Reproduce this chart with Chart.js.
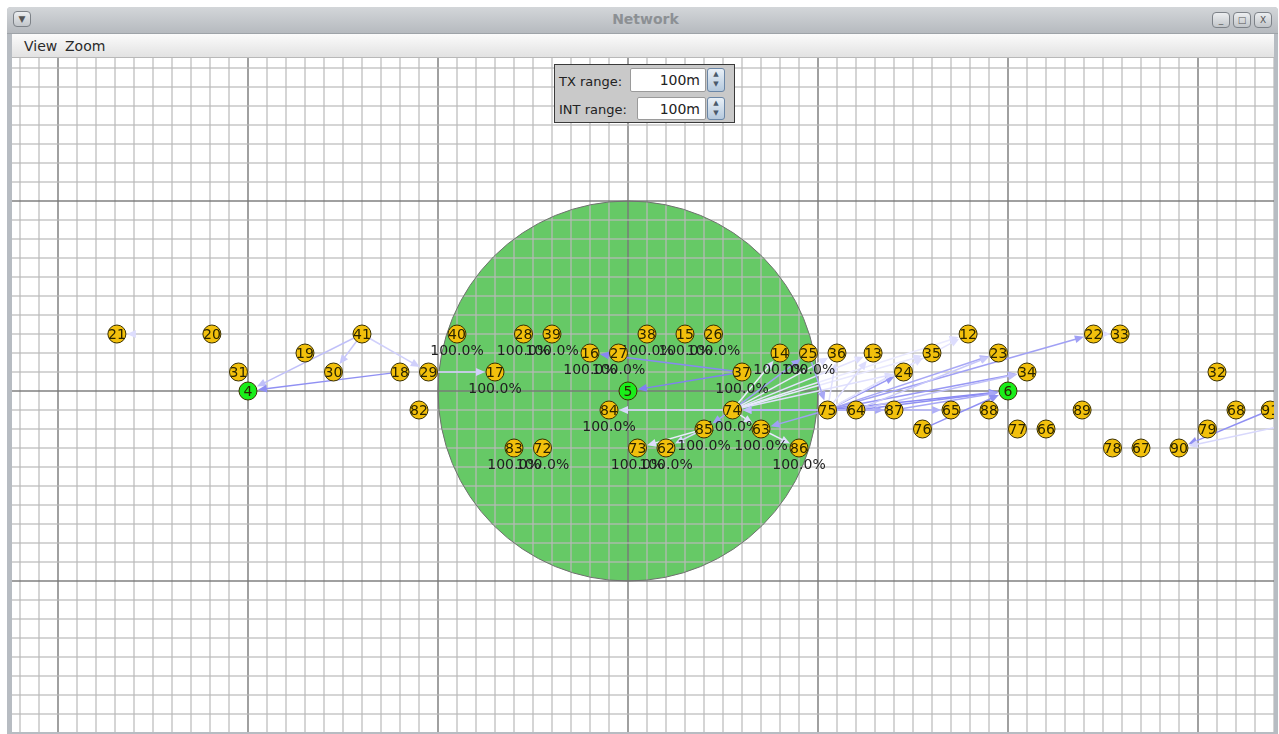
<!DOCTYPE html>
<html>
<head>
<meta charset="utf-8">
<script src="https://cdn.jsdelivr.net/npm/chart.js@4/dist/chart.umd.min.js"></script>
<style>
  body { margin: 0; width: 1279px; height: 734px; background: #fff; overflow: hidden; position: relative; font-family: "DejaVu Sans", sans-serif; }
  #frame { position: absolute; left: 7px; top: 7px; width: 1271px; height: 727px; background: #b7bcc2; border-radius: 4px 4px 0 0; }
  #title { position: absolute; left: 7px; top: 7px; width: 1271px; height: 26px; background: linear-gradient(#d3d6d9, #b6babf); border-radius: 4px 4px 0 0; border-bottom: 1px solid #9ea3a8; }
  #title span { position: absolute; left: 0; right: 0; top: 4px; text-align: center; font-size: 14px; font-weight: bold; color: #8c9094; padding-left: 6px; }
  .btn { position: absolute; top: 8px; width: 16px; height: 14px; border: 1px solid #7d8288; border-radius: 4px; background: linear-gradient(#eceef0, #c2c6ca); font-size: 9px; color: #555; text-align: center; line-height: 14px; }
  #menu { position: absolute; left: 12px; top: 34px; width: 1262px; height: 23px; background: linear-gradient(#fbfbfb, #e2e2e2); border-bottom: 1px solid #b8b8b8; }
  #menu span { position: absolute; top: 4px; font-size: 14px; color: #2a2a2a; }
  #plot { position: absolute; left: 12px; top: 58px; width: 1262px; height: 674px; background: #fff; }
  #ctl { position: absolute; left: 554px; top: 64px; width: 179px; height: 57px; background: #c9c9c9; border: 1px solid #3a3a3a; font-size: 13px; color: #222; }
  #ctl .lab { position: absolute; left: 4px; }
  #ctl .fld { position: absolute; background: #fff; border: 1px solid #9a9a9a; border-radius: 2px; text-align: right; padding-right: 5px; box-sizing: border-box; font-size: 14px; line-height: 22px; }
  #ctl .spin { position: absolute; left: 152px; width: 18px; border: 1px solid #6a86a6; border-radius: 3px; background: linear-gradient(#e9f0f7, #b5c9dd); box-sizing: border-box; font-size: 7px; color: #4a5a6a; text-align: center; line-height: 10px; }
</style>
</head>
<body>
<div id="frame"></div>
<div id="title"><span>Network</span></div>
<div class="btn" style="left:13px;top:11px">&#9660;</div>
<div class="btn" style="left:1212px;top:12px">_</div>
<div class="btn" style="left:1233px;top:12px">&#9633;</div>
<div class="btn" style="left:1254px;top:12px">X</div>
<div id="menu"><span style="left:12px">View</span><span style="left:53px">Zoom</span></div>
<div id="plot"><canvas id="net" width="1262" height="674"></canvas></div>
<div id="ctl">
  <div class="lab" style="top:9px">TX range:</div>
  <div class="fld" style="left:75px;top:3px;width:76px;height:24px">100m</div>
  <div class="spin" style="top:3px;height:24px">&#9650;<br>&#9660;</div>
  <div class="lab" style="top:37px">INT range:</div>
  <div class="fld" style="left:82px;top:32px;width:69px;height:23px">100m</div>
  <div class="spin" style="top:32px;height:23px">&#9650;<br>&#9660;</div>
</div>
<script>
// node ids and positions in metres (node 5 at origin, y up)
const nodeIds = [21, 20, 41, 40, 28, 39, 38, 15, 26, 12, 22, 33,
                 19, 16, 27, 14, 25, 36, 13, 35, 23,
                 31, 30, 18, 29, 17, 37, 24, 34, 32,
                 4, 5, 6,
                 82, 84, 74, 75, 64, 87, 65, 88, 89, 68, 91,
                 85, 63, 76, 77, 66, 79,
                 83, 72, 73, 62, 86, 78, 67, 90, 93];
const nodeX = [-269, -219, -140, -90, -55, -40, 10, 30, 45, 179, 245, 259,
               -170, -20, -5, 80, 95, 110, 129, 160, 195,
               -205, -155, -120, -105, -70, 60, 145, 210, 310,
               -200, 0, 200,
               -110, -10, 55, 105, 120, 140, 170, 190, 239, 320, 338,
               40, 70, 155, 205, 220, 305,
               -60, -45, 5, 20, 90, 255, 270, 290, 360];
const nodeY = [30, 30, 30, 30, 30, 30, 30, 30, 30, 30, 30, 30,
               20, 20, 20, 20, 20, 20, 20, 20, 20,
               10, 10, 10, 10, 10, 10, 10, 10, 10,
               0, 0, 0,
               -10, -10, -10, -10, -10, -10, -10, -10, -10, -10, -10,
               -20, -20, -20, -20, -20, -20,
               -30, -30, -30, -30, -30, -30, -30, -30, -15];

const sinkIds = [4, 5, 6];
const labeledIds = [40, 28, 39, 38, 15, 26, 16, 27, 17, 37, 14, 25, 84, 74, 85, 63, 86, 83, 72, 73, 62];
const labelText = '100.0%';

// links: sender -> receiver, strength 0..1
const linkFrom = [20, 41, 41, 41, 18, 29, 37, 37, 74, 74, 74, 74, 74, 74, 74, 74, 25,
                  75, 64, 75, 74, 85, 85, 63, 74,
                  75, 75, 75, 75, 75, 64, 87, 76, 75, 75, 64, 64,
                  75, 75, 75, 75, 22, 91, 93];
const linkTo = [21, 4, 30, 29, 4, 17, 16, 5, 84, 14, 25, 36, 13, 35, 12, 24, 75,
                74, 74, 63, 85, 73, 62, 86, 63,
                24, 23, 22, 34, 6, 6, 6, 6, 87, 65, 23, 34,
                12, 35, 13, 36, 33, 90, 90];
const linkStrength = [0.0, 0.3, 0.25, 0.2, 0.6, 0.2, 0.65, 0.7, 0.15, 0.02, 0.5, 0.05, 0.08, 0.05, 0.04, 0.1, 0.45,
                      0.55, 0.3, 0.5, 0.5, 0.03, 0.15, 0.05, 0.05,
                      0.55, 0.45, 0.5, 0.55, 0.65, 0.6, 0.45, 0.6, 0.45, 0.4, 0.25, 0.3,
                      0.08, 0.1, 0.12, 0.1, 0.12, 0.6, 0.15];

const txRange = 100;
const coverNode = 5;
const xRange = [-324.2, 340];
const yRange = [-179.5, 175.3];

function pos(chart, id) {
  const i = nodeIds.indexOf(id);
  return { x: chart.scales.x.getPixelForValue(nodeX[i]), y: chart.scales.y.getPixelForValue(nodeY[i]) };
}

// weak links fade towards white, strong ones are blue
function linkColor(s) {
  const r = Math.round(240 + (80 - 240) * s);
  const b = Math.round(255 + (235 - 255) * s);
  return `rgb(${r},${r},${b})`;
}

function coverRadius(chart) {
  const i = nodeIds.indexOf(coverNode);
  return chart.scales.x.getPixelForValue(nodeX[i] + txRange) - chart.scales.x.getPixelForValue(nodeX[i]);
}

const netPlugin = {
  id: 'net',
  beforeDraw(chart) {
    // TX range disc, under the grid
    const { ctx } = chart;
    const c = pos(chart, coverNode);
    ctx.save();
    ctx.beginPath();
    ctx.arc(c.x, c.y, coverRadius(chart), 0, Math.PI * 2);
    ctx.fillStyle = '#66c966';
    ctx.fill();
    ctx.restore();
  },
  beforeDatasetsDraw(chart) {
    const { ctx } = chart;
    const c = pos(chart, coverNode);
    ctx.save();
    ctx.beginPath();
    ctx.arc(c.x, c.y, coverRadius(chart), 0, Math.PI * 2);
    ctx.strokeStyle = '#707070';
    ctx.lineWidth = 1;
    ctx.stroke();

    // links with arrow heads
    linkFrom.forEach((f, k) => {
      const a = pos(chart, f), b = pos(chart, linkTo[k]);
      const dx = b.x - a.x, dy = b.y - a.y, len = Math.hypot(dx, dy);
      const ux = dx / len, uy = dy / len;
      const sx = a.x + ux * 9, sy = a.y + uy * 9;
      const ex = b.x - ux * 10, ey = b.y - uy * 10;
      const s = linkStrength[k];
      ctx.strokeStyle = linkColor(s);
      ctx.fillStyle = linkColor(Math.max(s, 0.12));
      ctx.lineWidth = 1.5;
      ctx.beginPath();
      ctx.moveTo(sx, sy);
      ctx.lineTo(ex - ux * 6, ey - uy * 6);
      if (s > 0) ctx.stroke();
      ctx.beginPath();
      ctx.moveTo(ex, ey);
      ctx.lineTo(ex - ux * 9 - uy * 4, ey - uy * 9 + ux * 4);
      ctx.lineTo(ex - ux * 9 + uy * 4, ey - uy * 9 - ux * 4);
      ctx.closePath();
      ctx.fill();
    });

    // delivery ratio labels
    ctx.font = '14px "DejaVu Sans"';
    ctx.fillStyle = '#1e1e1e';
    ctx.textAlign = 'center';
    ctx.textBaseline = 'alphabetic';
    labeledIds.forEach(id => {
      const p = pos(chart, id);
      ctx.fillText(labelText, p.x, p.y + 21);
    });
    ctx.restore();
  },
  afterDatasetsDraw(chart) {
    const { ctx } = chart;
    ctx.save();
    ctx.font = '14px "DejaVu Sans"';
    ctx.fillStyle = '#2a2400';
    ctx.textAlign = 'center';
    ctx.textBaseline = 'middle';
    nodeIds.forEach(id => {
      const p = pos(chart, id);
      ctx.fillText(String(id), p.x, p.y + 1);
    });
    ctx.restore();
  }
};

function gridTicks(scale) {
  const t = [];
  for (let v = Math.ceil(scale.min / 10) * 10; v <= scale.max; v += 10) t.push({ value: v });
  scale.ticks = t;
}

const gridOpts = {
  color: c => (c.tick && Math.round(c.tick.value) % 100 === 0) ? 'rgba(120,120,120,0.7)' : 'rgba(185,185,185,0.6)',
  lineWidth: 2,
  drawTicks: false
};

new Chart(document.getElementById('net'), {
  type: 'scatter',
  data: {
    datasets: [{
      data: nodeIds.map((id, i) => ({ x: nodeX[i], y: nodeY[i] })),
      pointRadius: 9,
      pointHoverRadius: 9,
      pointBorderWidth: 1,
      pointBorderColor: '#3a3000',
      pointBackgroundColor: c => sinkIds.includes(nodeIds[c.dataIndex]) ? '#1aee1a' : '#f2c00c'
    }]
  },
  options: {
    responsive: false,
    animation: false,
    devicePixelRatio: 1,
    layout: { padding: 0, autoPadding: false },
    plugins: { legend: { display: false }, tooltip: { enabled: false } },
    scales: {
      x: { type: 'linear', min: xRange[0], max: xRange[1], afterBuildTicks: gridTicks,
           ticks: { display: false }, grid: gridOpts, border: { display: false } },
      y: { type: 'linear', min: yRange[0], max: yRange[1], afterBuildTicks: gridTicks,
           ticks: { display: false }, grid: gridOpts, border: { display: false } }
    }
  },
  plugins: [netPlugin]
});
</script>
</body>
</html>
